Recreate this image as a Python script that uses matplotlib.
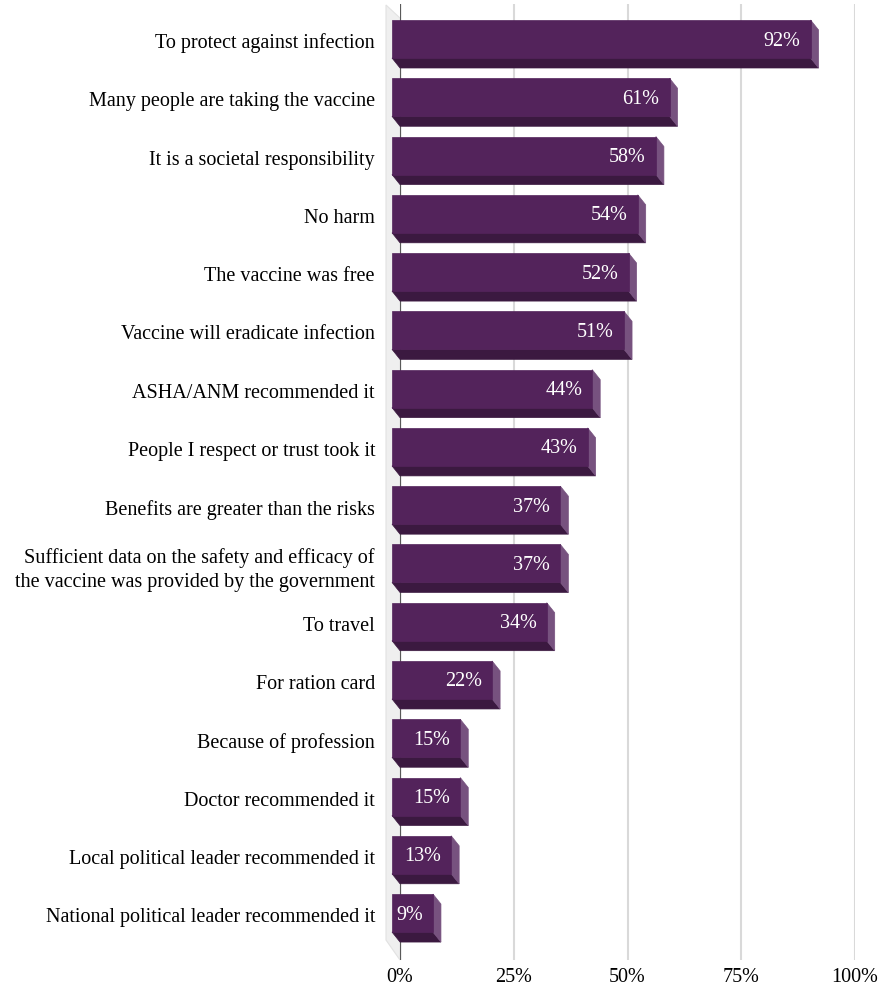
import matplotlib.pyplot as plt
from matplotlib.patches import Polygon

# data
reasons = [
    "To protect against infection",
    "Many people are taking the vaccine",
    "It is a societal responsibility",
    "No harm",
    "The vaccine was free",
    "Vaccine will eradicate infection",
    "ASHA/ANM recommended it",
    "People I respect or trust took it",
    "Benefits are greater than the risks",
    "Sufficient data on the safety and efficacy of\nthe vaccine was provided by the government",
    "To travel",
    "For ration card",
    "Because of profession",
    "Doctor recommended it",
    "Local political leader recommended it",
    "National political leader recommended it",
]
shares = [92, 61, 58, 54, 52, 51, 44, 43, 37, 37, 34, 22, 15, 15, 13, 9]
xticks = [0, 25, 50, 75, 100]

plt.rcParams['font.family'] = ['Liberation Serif', 'DejaVu Serif']
FS = 14.5

W, H = 884, 994
fig = plt.figure(figsize=(W / 100, H / 100), dpi=100)
# back plane: 0% at px 400, 100% at px 855; rows centred at 49 + 58.27*i
ax = fig.add_axes([400 / W, (H - 960) / H, 455 / W, 956 / H])
pitch = 58.27
ax.set_xlim(0, 100)
ax.set_ylim((960 - 49) / pitch, (4 - 49) / pitch)

dx = -8 / 4.55        # depth offset in data units
dy = -10 / pitch
half = 19 / pitch     # half bar height
txt_dy = 2 / pitch    # labels sit a touch below the face centre

front = '#53235b'
bottom = '#3b1940'
side = '#77527f'

# left wall
wall = Polygon([(-3.08, (5 - 49) / pitch), (0, (18 - 49) / pitch),
                (0, (960 - 49) / pitch), (-3.08, (940 - 49) / pitch)],
               closed=True, fc='#efefef', ec='#e2e2e2', lw=0.8,
               clip_on=False, zorder=0)
ax.add_patch(wall)

for t in xticks[1:]:
    ax.axvline(t, color='#d9d9d9', lw=1.5, zorder=1)
ax.axvline(0, color='#595959', lw=1.6, zorder=1)

for i, v in enumerate(shares):
    y0, y1 = i - half, i + half
    # bottom face
    ax.add_patch(Polygon([(dx, y1 + dy), (v + dx, y1 + dy), (v, y1), (0, y1)],
                         closed=True, fc=bottom, ec=bottom, lw=0.5, zorder=3, clip_on=False))
    # right face
    ax.add_patch(Polygon([(v + dx, y0 + dy), (v, y0), (v, y1), (v + dx, y1 + dy)],
                         closed=True, fc=side, ec=side, lw=0.5, zorder=3, clip_on=False))
    # front face
    ax.add_patch(Polygon([(dx, y0 + dy), (v + dx, y0 + dy), (v + dx, y1 + dy), (dx, y1 + dy)],
                         closed=True, fc=front, ec=front, lw=0.5, zorder=4, clip_on=False))
    ax.text(v + dx - 10 / 4.55, i + dy + txt_dy, f"{v}%", color='white', fontsize=FS,
            ha='right', va='center', zorder=5)

ax.set_yticks([i + dy + txt_dy for i in range(len(reasons))])
ax.set_yticklabels(reasons, fontsize=FS, linespacing=1.3)
ax.set_xticks(xticks)
ax.set_xticklabels([f"{t}%" for t in xticks], fontsize=FS)
ax.tick_params(axis='y', length=0, pad=18)
ax.tick_params(axis='x', length=0, pad=6)
for s in ax.spines.values():
    s.set_visible(False)

fig.savefig('out.png', dpi=100)
